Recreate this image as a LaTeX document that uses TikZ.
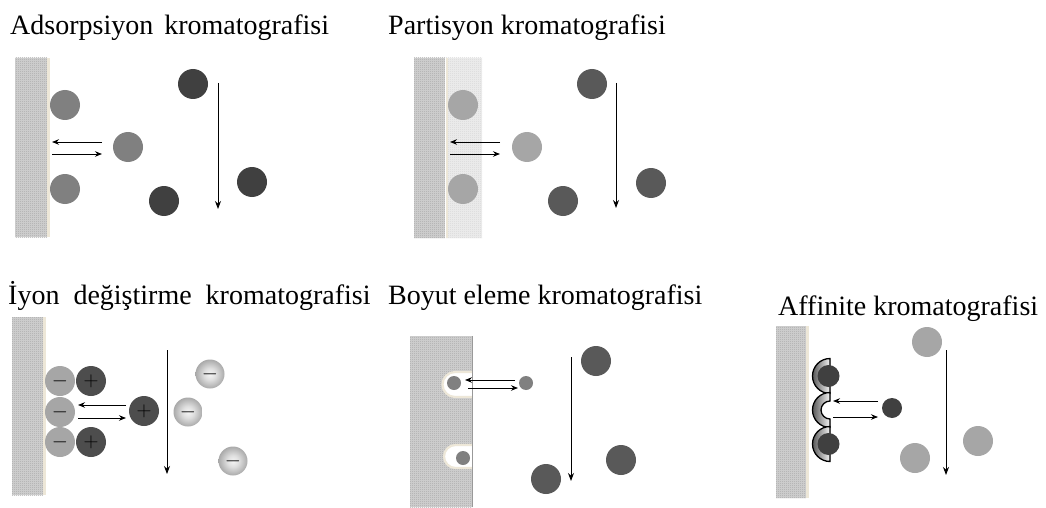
\documentclass[tikz,border=0pt]{standalone}
\usepackage{fontspec}
\setmainfont{Liberation Serif}
\usetikzlibrary{arrows.meta,patterns}

\definecolor{wallgray}{HTML}{D2D2D2}
\definecolor{walldot}{HTML}{A8A8A8}
\definecolor{layergray}{HTML}{EDEDED}
\definecolor{layerdot}{HTML}{D6D6D6}
\definecolor{edgebeige}{HTML}{EDE7D8}
\definecolor{midgray}{HTML}{808080}
\definecolor{lightgray}{HTML}{A6A6A6}
\definecolor{darkA}{HTML}{404040}
\definecolor{darkB}{HTML}{595959}
\definecolor{darkC}{HTML}{4D4D4D}

% fine checkerboard texture of the stationary phase
\pgfdeclarepatternformonly{checker}{\pgfpointorigin}{\pgfpoint{2pt}{2pt}}{\pgfpoint{2pt}{2pt}}{%
  \pgfpathrectangle{\pgfpointorigin}{\pgfpoint{1pt}{1pt}}%
  \pgfpathrectangle{\pgfpoint{1pt}{1pt}}{\pgfpoint{1pt}{1pt}}%
  \pgfusepath{fill}}

\pgfdeclareradialshading{ionball}{\pgfpoint{0bp}{0bp}}{%
  color(0bp)=(gray!8); color(10bp)=(gray!25); color(28bp)=(gray!75); color(42bp)=(gray!100); color(50bp)=(gray!90!black)}

\tikzset{
  title/.style={anchor=base west, inner sep=0pt, font=\fontsize{28}{30}\selectfont},
  wall/.style={fill=wallgray, postaction={pattern=checker, pattern color=walldot}},
  layer/.style={fill=layergray, postaction={pattern=checker, pattern color=layerdot}},
  rim/.style={draw=edgebeige, line width=2.6pt},
  ball/.style={circle, inner sep=0pt, minimum size=30pt, draw=none},
  smallball/.style={circle, inner sep=0pt, minimum size=14pt, draw=none, fill=midgray},
  ion/.style={circle, inner sep=0pt, minimum size=29pt, draw=none, shading=ionball},
  chg/.style={font=\fontsize{20}{20}\selectfont},
  swap/.style={-{Stealth[length=7pt,width=5.5pt]}, line width=0.9pt},
  flow/.style={-{Stealth[length=8pt,width=6pt]}, line width=0.9pt},
  cup/.style={draw=black, line width=1.3pt, left color=gray!70!black, right color=gray!8}
}

\begin{document}
\begin{tikzpicture}[x=1pt,y=-1pt]
\useasboundingbox (0,0) rectangle (1046,508);

% ---------- Adsorption ----------
\node[title] (t1) at (10,35) {Adsorpsiyon\hspace{11pt}kromatografisi};
\path[wall] (15,58) rectangle (47,237);
\draw[rim] (48.3,58) -- (48.3,237);
\node[ball, fill=midgray] (a1) at (65,105) {};
\node[ball, fill=midgray] (a2) at (65,189) {};
\node[ball, fill=midgray] (a3) at (128,147) {};
\node[ball, fill=darkA] (a4) at (193,84) {};
\node[ball, fill=darkA] (a5) at (164,201) {};
\node[ball, fill=darkA] (a6) at (252,182) {};
\coordinate (a7) at (102,142);
\coordinate (a8) at (52,142);
\coordinate (a9) at (52,154);
\coordinate (a10) at (102,154);
\draw[swap] (a7) -- (a8);
\draw[swap] (a9) -- (a10);
\coordinate (a11) at (218,83);
\coordinate (a12) at (218,209);
\draw[flow] (a11) -- (a12);

% ---------- Partition ----------
\node[title] (t2) at (388,35) {Partisyon kromatografisi};
\path[wall] (414,58) rectangle (445,238);
\path[layer] (446,58) rectangle (482,238);
\draw[draw=edgebeige, line width=2pt] (446.5,58) -- (446.5,238);
\node[ball, fill=lightgray] (p1) at (463,105) {};
\node[ball, fill=lightgray] (p2) at (463,189) {};
\node[ball, fill=lightgray] (p3) at (527,147) {};
\node[ball, fill=darkB] (p4) at (592,84) {};
\node[ball, fill=darkB] (p5) at (563,201) {};
\node[ball, fill=darkB] (p6) at (651,183) {};
\coordinate (p7) at (500,142);
\coordinate (p8) at (450,142);
\coordinate (p9) at (450,154);
\coordinate (p10) at (500,154);
\draw[swap] (p7) -- (p8);
\draw[swap] (p9) -- (p10);
\coordinate (p11) at (616,83);
\coordinate (p12) at (616,208);
\draw[flow] (p11) -- (p12);

% ---------- Ion exchange ----------
\node[title] (t3) at (8,304) {İyon\hspace{14pt}değiştirme\hspace{14pt}kromatografisi};
\path[wall] (12,317) rectangle (43,495);
\draw[rim] (44.3,317) -- (44.3,495);
\node[ball, fill=lightgray] (i1) at (60,381) {};
\node[ball, fill=lightgray] (i2) at (60,412) {};
\node[ball, fill=lightgray] (i3) at (60,442) {};
\node[chg] at (i1) {$-$};
\node[chg] at (i2) {$-$};
\node[chg] at (i3) {$-$};
\node[ball, fill=darkC] (i4) at (91,381) {};
\node[ball, fill=darkC] (i5) at (91,442) {};
\node[ball, fill=darkC] (i6) at (144,411) {};
\node[chg] at (i4) {$+$};
\node[chg] at (i5) {$+$};
\node[chg] at (i6) {$+$};
\node[ion] (i7) at (210,374) {};
\node[ion] (i8) at (188,412) {};
\node[ion] (i9) at (233,461) {};
\node[chg] at (i7) {$-$};
\node[chg] at (i8) {$-$};
\node[chg] at (i9) {$-$};
\coordinate (i10) at (126,405);
\coordinate (i11) at (78,405);
\coordinate (i12) at (78,418);
\coordinate (i13) at (126,418);
\draw[swap] (i10) -- (i11);
\draw[swap] (i12) -- (i13);
\coordinate (i14) at (167,350);
\coordinate (i15) at (167,474);
\draw[flow] (i14) -- (i15);

% ---------- Size exclusion ----------
\node[title] (t4) at (388,304) {Boyut eleme kromatografisi};
\path[wall] (410,336) rectangle (472,507);
% pores in the gel surface
\filldraw[fill=white, draw=edgebeige, line width=2.2pt]
  (472,372) -- (455,372) arc[start angle=-90, end angle=-270, radius=12.5] -- (472,397);
\filldraw[fill=white, draw=edgebeige, line width=2.2pt]
  (472,445) -- (455.5,445) arc[start angle=-90, end angle=-270, radius=11.5] -- (472,468);
\draw[gray!80, line width=0.8pt] (472.5,336) -- (472.5,507);
\node[smallball] (s1) at (454,383) {};
\node[smallball] (s2) at (463,458) {};
\node[smallball] (s3) at (526,383) {};
\node[ball, fill=darkB] (s4) at (596,361) {};
\node[ball, fill=darkB] (s5) at (546,479) {};
\node[ball, fill=darkB] (s6) at (621,460) {};
\coordinate (s7) at (515,380);
\coordinate (s8) at (465,380);
\coordinate (s9) at (468,388);
\coordinate (s10) at (518,388);
\draw[swap] (s7) -- (s8);
\draw[swap] (s9) -- (s10);
\coordinate (s11) at (571,357);
\coordinate (s12) at (571,481);
\draw[flow] (s11) -- (s12);

% ---------- Affinity ----------
\node[title] (t5) at (778,315) {Affinite kromatografisi};
\path[wall] (776,326) rectangle (806,498);
\draw[rim] (807.3,326) -- (807.3,498);
% ligand cups
\foreach \cy in {376,410,444}{
  \filldraw[cup] (830,\cy-17.5) arc[start angle=-90, end angle=-270, radius=17.5]
    -- (830,\cy+9) arc[start angle=90, end angle=270, radius=9] -- cycle;
}
\node[ball, minimum size=22pt, fill=darkA] (f1) at (828.5,376) {};
\node[ball, minimum size=22pt, fill=darkA] (f2) at (828.5,444) {};
\node[ball, minimum size=20pt, fill=darkA] (f3) at (892,408) {};
\node[ball, fill=lightgray] (f4) at (927,342) {};
\node[ball, fill=lightgray] (f5) at (978,441) {};
\node[ball, fill=lightgray] (f6) at (915,458) {};
\coordinate (f7) at (878,401);
\coordinate (f8) at (833,401);
\coordinate (f9) at (833,417);
\coordinate (f10) at (878,417);
\draw[swap] (f7) -- (f8);
\draw[swap] (f9) -- (f10);
\coordinate (f11) at (946,350);
\coordinate (f12) at (946,475);
\draw[flow] (f11) -- (f12);
\end{tikzpicture}
\end{document}
